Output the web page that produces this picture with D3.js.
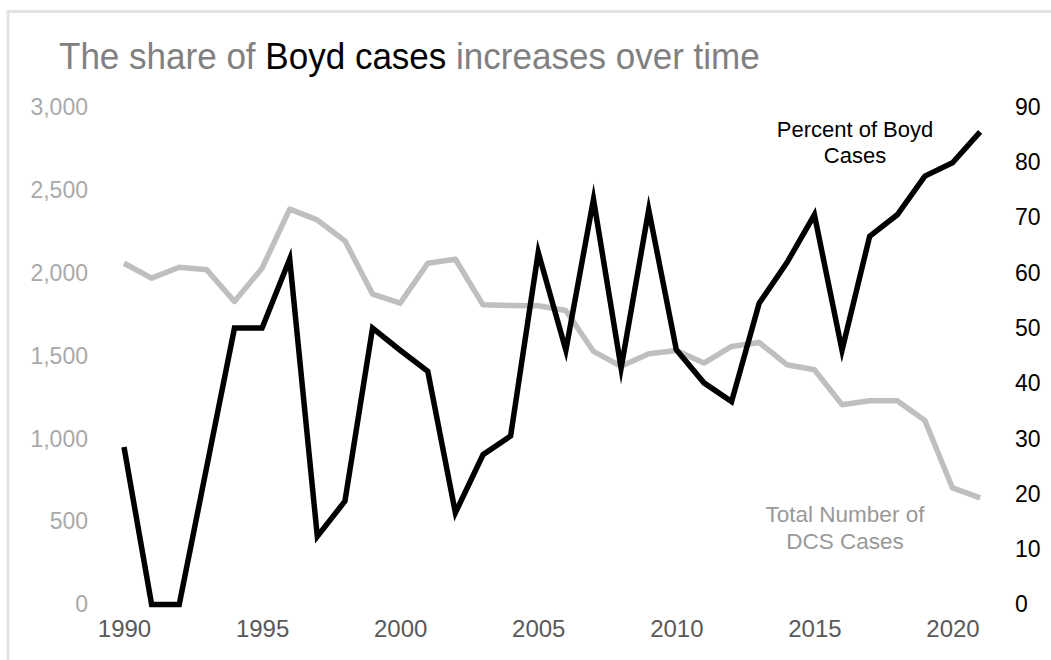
<!DOCTYPE html>
<html>
<head>
<meta charset="utf-8">
<script src="https://cdn.jsdelivr.net/npm/d3@7"></script>
<style>
  html, body { margin: 0; padding: 0; background: #fff; }
  svg { display: block; font-family: "Liberation Sans", Arial, sans-serif; }
</style>
</head>
<body>
<svg id="chart" width="1051" height="660"></svg>
<script>
// ---- data ----
const years = [1990,1991,1992,1993,1994,1995,1996,1997,1998,1999,2000,2001,2002,2003,2004,2005,
               2006,2007,2008,2009,2010,2011,2012,2013,2014,2015,2016,2017,2018,2019,2020,2021];
const percentBoyd = [28.5,0,0,25,50,50,62.5,12.3,18.7,50,46,42.2,16.6,27.1,30.5,63.7,
                     46,73.3,42.8,71.4,46.1,40.1,36.7,54.5,61.8,70.5,46,66.6,70.5,77.5,79.9,85.5];
const totalCases = [2058,1968,2034,2018,1827,2028,2384,2319,2193,1872,1817,2058,2082,1807,1803,1801,
                    1773,1526,1436,1512,1532,1456,1556,1580,1446,1416,1205,1229,1229,1110,703,643];
const leftTicks = [0,500,1000,1500,2000,2500,3000];
const rightTicks = [0,10,20,30,40,50,60,70,80,90];
const xTicks = [1990,1995,2000,2005,2010,2015,2020];
const titleParts = [
  {text: "The share of ", color: "#808080"},
  {text: "Boyd cases", color: "#000000"},
  {text: " increases over time", color: "#808080"}
];
const percentLabel = ["Percent of Boyd", "Cases"];
const totalLabel = ["Total Number of", "DCS Cases"];

// ---- layout ----
const svg = d3.select("#chart");
const plotTop = 107, plotBottom = 604.5;
const x = d3.scaleLinear().domain([1990, 2020]).range([124, 952.5]);
const yL = d3.scaleLinear().domain([0, 3000]).range([plotBottom, plotTop]);
const yR = d3.scaleLinear().domain([0, 90]).range([plotBottom, plotTop]);

// frame (top + left border)
svg.append("path")
  .attr("d", "M8,660 L8,11.5 L1051,11.5")
  .attr("fill", "none").attr("stroke", "#e4e4e4").attr("stroke-width", 3);

// title (horizontally condensed to the reference width)
const title = svg.append("text").attr("x", 59).attr("y", 69)
  .attr("font-size", 37);
titleParts.forEach(p => title.append("tspan").attr("fill", p.color).text(p.text));
const tw = title.node().getComputedTextLength();
const sx = 701 / tw;
title.attr("transform", `translate(${59 - 59*sx},0) scale(${sx},1)`);

// left axis
const axL = svg.append("g").attr("transform", "translate(88,0)")
  .call(d3.axisLeft(yL).tickValues(leftTicks).tickFormat(d3.format(",")).tickSize(0).tickPadding(0));
axL.select(".domain").remove();
axL.selectAll("text").attr("font-size", 23).attr("fill", "#a9a9a9")
  .attr("font-family", "'Liberation Sans', Arial, sans-serif");

// right axis
const axR = svg.append("g").attr("transform", "translate(1015,0)")
  .call(d3.axisRight(yR).tickValues(rightTicks).tickSize(0).tickPadding(0));
axR.select(".domain").remove();
axR.selectAll("text").attr("font-size", 23).attr("fill", "#000")
  .attr("font-family", "'Liberation Sans', Arial, sans-serif");

// x axis
const axX = svg.append("g").attr("transform", "translate(0,620)")
  .call(d3.axisBottom(x).tickValues(xTicks).tickFormat(d3.format("d")).tickSize(0).tickPadding(0));
axX.select(".domain").remove();
axX.selectAll("text").attr("font-size", 24).attr("fill", "#595959")
  .attr("font-family", "'Liberation Sans', Arial, sans-serif");

// lines
const lineL = d3.line().x((d, i) => x(years[i])).y(d => yL(d));
const lineR = d3.line().x((d, i) => x(years[i])).y(d => yR(d));

svg.append("path").datum(totalCases).attr("d", lineL)
  .attr("fill", "none").attr("stroke", "#bfbfbf").attr("stroke-width", 5.5)
  .attr("stroke-linejoin", "round");
svg.append("path").datum(percentBoyd).attr("d", lineR)
  .attr("fill", "none").attr("stroke", "#000").attr("stroke-width", 5.5)
  .attr("stroke-linejoin", "miter").attr("stroke-miterlimit", 10);

// annotations
const pl = svg.append("text").attr("text-anchor", "middle").attr("font-size", 22).attr("fill", "#000");
percentLabel.forEach((t, i) => pl.append("tspan").attr("x", 855).attr("y", 137 + i*26).text(t));
const tl = svg.append("text").attr("text-anchor", "middle").attr("font-size", 22.5).attr("fill", "#999");
totalLabel.forEach((t, i) => tl.append("tspan").attr("x", 845).attr("y", 522 + i*27).text(t));
</script>
</body>
</html>
